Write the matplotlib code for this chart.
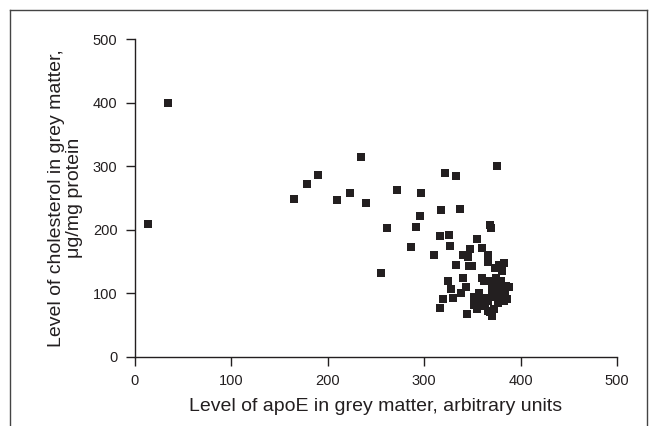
import matplotlib
matplotlib.use("Agg")
import matplotlib.pyplot as plt
from matplotlib.lines import Line2D

plt.rcParams['font.family'] = ['Liberation Sans', 'DejaVu Sans']

apoe = [14, 34, 165, 178, 190, 210, 223, 234, 240, 255, 261, 272, 286, 292, 296, 297,
        310, 316, 317, 322, 326, 327, 333, 337, 376, 368, 369, 355, 360, 366, 366, 348,
        340, 345, 316, 320, 325, 328, 330, 333, 338, 340, 343, 346, 344, 350, 352, 352,
        355, 357, 360, 360, 362, 363, 365, 366, 368, 369, 370, 370, 372, 372, 373, 374,
        375, 376, 377, 378, 378, 379, 380, 380, 381, 382, 383, 383, 384, 385, 386, 388,
        370, 366, 375, 358, 372]
chol = [210, 399, 249, 272, 286, 247, 258, 315, 243, 132, 203, 263, 173, 205, 222, 258,
        160, 190, 231, 289, 192, 175, 285, 233, 300, 207, 203, 185, 172, 160, 150, 170,
        160, 158, 77, 92, 120, 107, 93, 145, 100, 125, 110, 143, 68, 143, 95, 82,
        75, 100, 125, 90, 120, 80, 93, 88, 70, 120, 108, 98, 112, 75, 140, 105,
        95, 120, 85, 145, 110, 100, 92, 120, 135, 105, 88, 148, 97, 112, 92, 110,
        65, 72, 125, 80, 102]

x_ticks = [0, 100, 200, 300, 400, 500]
y_ticks = [0, 100, 200, 300, 400, 500]

ink = '#231f20'
fig = plt.figure(figsize=(6.55, 4.26), dpi=100)
ax = fig.add_axes([0.206, 0.162, 0.736, 0.746])
ax.scatter(apoe, chol, marker='s', s=28, color=ink, linewidths=0, zorder=3)
ax.set_xlim(0, 500)
ax.set_ylim(0, 500)
ax.set_xticks(x_ticks)
ax.set_yticks(y_ticks)
for s in ['top', 'right']:
    ax.spines[s].set_visible(False)
for s in ['left', 'bottom']:
    ax.spines[s].set_color(ink)
    ax.spines[s].set_linewidth(1.0)
ax.tick_params(direction='out', length=6.5, width=1.0, color=ink, labelsize=10.5,
               labelcolor=ink)
ax.tick_params(axis='x', pad=6)
ax.tick_params(axis='y', pad=6)
ax.set_xlabel('Level of apoE in grey matter, arbitrary units', fontsize=14,
              color=ink, labelpad=7)
ax.set_ylabel('Level of cholesterol in grey matter,\nμg/mg protein', fontsize=14,
              color=ink, linespacing=1.1)
ax.yaxis.set_label_coords(-0.108, 0.5)

# figure frame (open at the bottom)
fw, fh = 655, 426
x0, x1, yt = 9.5 / fw, 646.5 / fw, 1 - 9.5 / fh
for xs, ys in [([x0, x0], [0, yt]), ([x1, x1], [0, yt]), ([x0, x1], [yt, yt])]:
    fig.add_artist(Line2D(xs, ys, color='#444444', lw=1.0, transform=fig.transFigure))

fig.savefig('out.png', dpi=100)
